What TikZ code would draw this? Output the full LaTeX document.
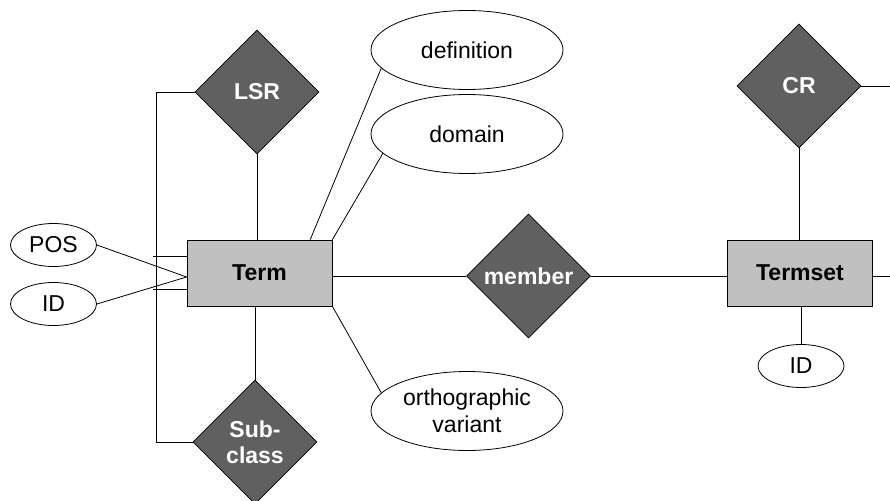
\documentclass[tikz,border=0pt]{standalone}
\usepackage{fontspec}
\setmainfont{Liberation Sans}
\usetikzlibrary{shapes.geometric,calc}
\definecolor{reldark}{HTML}{606060}
\definecolor{entgray}{HTML}{C0C0C0}
\begin{document}
\begin{tikzpicture}[x=1pt,y=-1pt,
  every node/.style={font=\fontsize{23}{27}\selectfont},
  rel/.style={diamond,aspect=1,draw=black,line width=0.8pt,fill=reldark,
    minimum width=124pt,minimum height=124pt,inner sep=0pt,
    text=white,font=\fontsize{23}{26}\selectfont\bfseries,align=center},
  ent/.style={rectangle,draw=black,line width=0.8pt,fill=entgray,
    minimum width=145pt,minimum height=66pt,inner sep=0pt,
    font=\fontsize{23}{27}\selectfont\bfseries},
  attr/.style={ellipse,draw=black,line width=0.8pt,fill=white,inner sep=0pt,
    align=center,font=\fontsize{23}{27}\selectfont},
  bigattr/.style={attr,minimum width=192pt,minimum height=79pt},
  smallattr/.style={attr,minimum width=86pt,minimum height=43pt},
  conn/.style={draw=black,line width=0.8pt}
]
\useasboundingbox (0,0) rectangle (890,500);

% entities
\node[ent] (Term) at (259.5,273) {Term};
\node[ent] (Termset) at (800,273) {Termset};

% relationships
\node[rel] (LSR) at (257,92) {LSR};
\node[rel] (Sub) at (255,442) {Sub-\\class};
\node[rel] (member) at (528.5,276) {member};
\node[rel] (CR) at (799,86) {CR};

% attributes
\node[smallattr] (POS) at (53.5,245) {POS};
\node[smallattr] (ID) at (53.5,304) {ID};
\node[bigattr] (def) at (467,50) {definition};
\node[bigattr] (dom) at (467,134) {domain};
\node[bigattr] (ortho) at (467,411) {orthographic\\variant};
\node[smallattr] (tid) at (801,366) {ID};

% helper coordinates
\coordinate (lx) at (156,0);
\coordinate (s1) at (153,256);
\coordinate (s2) at (153,289);
\coordinate (rEdgeA) at (890,86);
\coordinate (rEdgeB) at (890,276);
\coordinate (tdef) at ($(Term.north west)!0.848!(Term.north east)$);
\coordinate (tin) at ($(Term.west)+(0,4)$);

% connectors
\draw[conn] (LSR.south) -- (LSR.south |- Term.north);
\draw[conn] (LSR.west) -- (LSR.west -| lx) -- (Sub.west -| lx) -- (Sub.west);
\draw[conn] (s1) -- (s1 -| Term.west);
\draw[conn] (s2) -- (s2 -| Term.west);
\draw[conn] (POS.east) -- (tin);
\draw[conn] (ID.east) -- (tin);
\draw[conn] (Sub.north |- Term.south) -- (Sub.north);
\draw[conn] (tdef) -- (def.192);
\draw[conn] (Term.north east) -- (dom.193);
\draw[conn] (Term.south east) -- (ortho.168);
\draw[conn] (member.west -| Term.east) -- (member.west);
\draw[conn] (member.east) -- (member.east -| Termset.west);
\draw[conn] (rEdgeB -| Termset.east) -- (rEdgeB);
\draw[conn] (CR.east) -- (rEdgeA);
\draw[conn] (CR.south) -- (CR.south |- Termset.north);
\draw[conn] (tid.north |- Termset.south) -- (tid.north);
\end{tikzpicture}
\end{document}
